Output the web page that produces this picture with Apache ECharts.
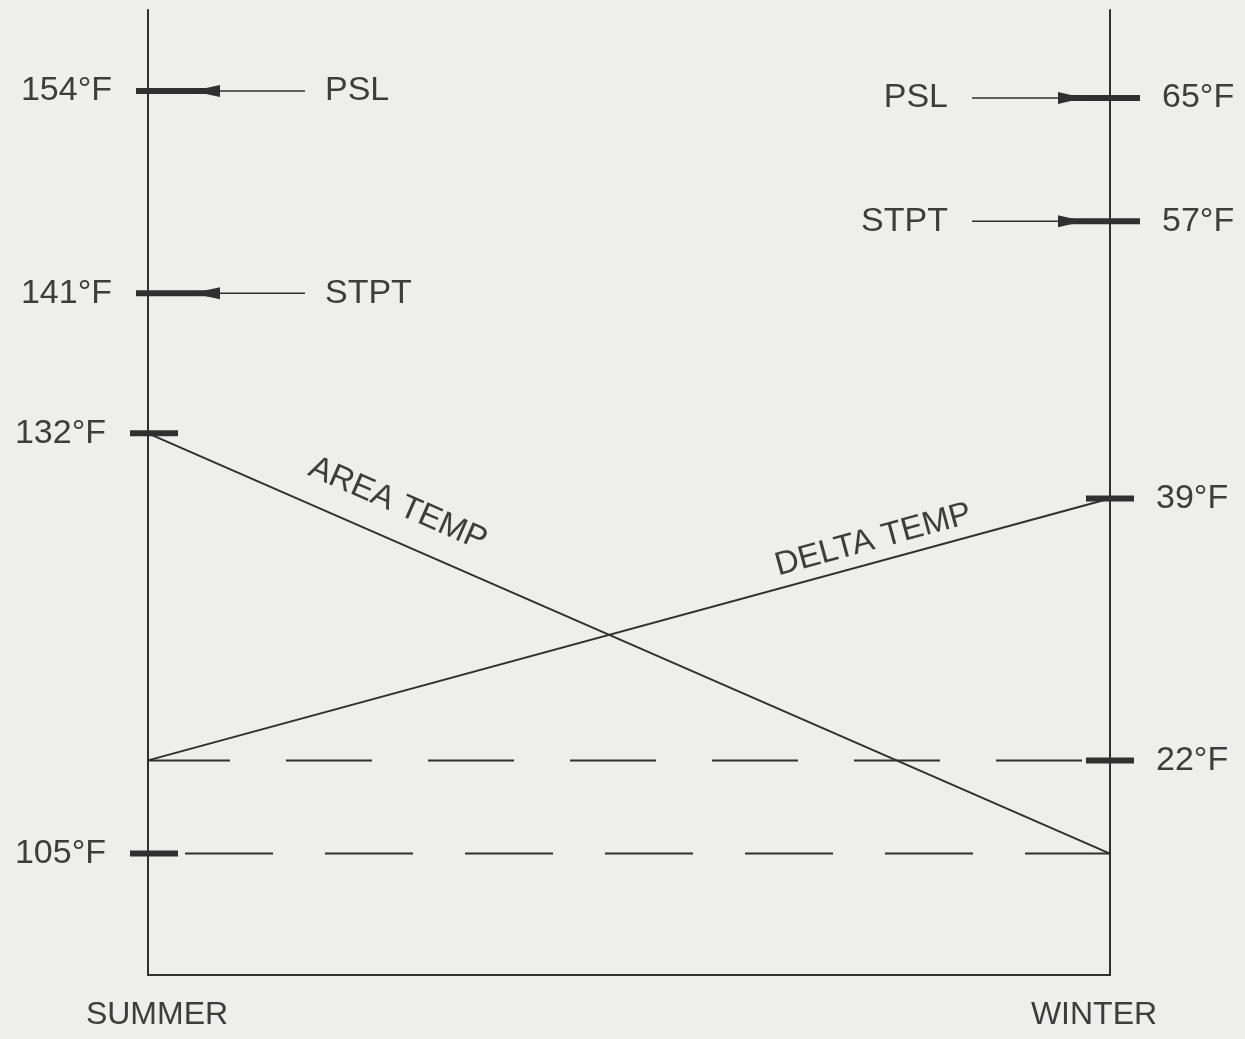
<!DOCTYPE html>
<html>
<head>
<meta charset="utf-8">
<title>Area temp / delta temp</title>
<script src="https://cdn.jsdelivr.net/npm/echarts@6/dist/echarts.min.js"></script>
<style>
  html, body { margin: 0; padding: 0; background: #eeeeec; }
  #chart { width: 1245px; height: 1039px; }
</style>
</head>
<body>
<div id="chart"></div>
<script>
// summer reads on the left scale, winter on the right one
const seasons = ['SUMMER', 'WINTER'];
const areaTemp = [132, 105];   // left scale, °F
const deltaTemp = [22, 39];    // right scale, °F
const summerTicks = [154, 141, 132, 105];
const summerSetpoints = ['PSL', 'STPT', '', ''];
const winterTicks = [65, 57, 39, 22];
const winterSetpoints = ['PSL', 'STPT', '', ''];
const lineNames = ['AREA TEMP', 'DELTA TEMP'];

const ink = '#303030';
const textInk = '#3d3d3d';
const family = '"Liberation Sans", Arial, sans-serif';

function markerRender(left, names) {
  return function (params, api) {
    const p = api.coord([api.value(0), api.value(1)]);
    const x = p[0], y = p[1];
    const name = names[params.dataIndex];
    const kids = [];
    let a, b;
    if (name) { a = left ? -12 : -52; b = left ? 72 : 30; }
    else { a = left ? -18 : -24; b = left ? 30 : 24; }
    kids.push({ type: 'line', shape: { x1: x + a, y1: y, x2: x + b, y2: y },
      style: { stroke: ink, lineWidth: 6 } });
    if (name) {
      if (left) {
        kids.push({ type: 'polygon', shape: { points: [[x + b, y - 6], [x + b, y + 6], [x + b - 28, y]] },
          style: { fill: ink } });
        kids.push({ type: 'line', shape: { x1: x + b, y1: y, x2: x + b + 85, y2: y },
          style: { stroke: ink, lineWidth: 1.6 } });
        kids.push({ type: 'text', x: x + b + 105, y: y,
          style: { text: name, font: '34px ' + family, fill: textInk, align: 'left', verticalAlign: 'middle' } });
      } else {
        kids.push({ type: 'polygon', shape: { points: [[x + a, y - 6], [x + a, y + 6], [x + a + 26, y]] },
          style: { fill: ink } });
        kids.push({ type: 'line', shape: { x1: x + a - 86, y1: y, x2: x + a, y2: y },
          style: { stroke: ink, lineWidth: 1.6 } });
        kids.push({ type: 'text', x: x + a - 110, y: y,
          style: { text: name, font: '34px ' + family, fill: textInk, align: 'right', verticalAlign: 'middle' } });
      }
    }
    kids.push({ type: 'text', x: left ? x + a - 24 : x + b + 22, y: y,
      style: { text: api.value(1) + '°F', font: '34px ' + family, fill: textInk,
        align: left ? 'right' : 'left', verticalAlign: 'middle' } });
    return { type: 'group', children: kids };
  };
}

// text laid along a line, a bit above it
function lineTitle(values, name, along, offset) {
  return function (params, api) {
    const p0 = api.coord([0, values[0]]);
    const p1 = api.coord([1, values[1]]);
    const dx = p1[0] - p0[0], dy = p1[1] - p0[1];
    const len = Math.hypot(dx, dy);
    const nx = dy / len, ny = -dx / len;
    return {
      type: 'text',
      x: p0[0] + dx * along + nx * offset,
      y: p0[1] + dy * along + ny * offset,
      rotation: -Math.atan2(dy, dx),
      style: { text: name, font: '33px ' + family, fill: textInk, align: 'center', verticalAlign: 'middle' }
    };
  };
}

const axisStyle = { color: ink, width: 2 };
const chart = echarts.init(document.getElementById('chart'));
chart.setOption({
  backgroundColor: '#eeeeec',
  animation: false,
  grid: { left: 148, right: 135, top: 10, bottom: 64 },
  xAxis: {
    type: 'category',
    data: seasons,
    boundaryGap: false,
    axisLine: { onZero: false, lineStyle: axisStyle },
    axisTick: { show: false },
    axisLabel: {
      color: textInk, fontSize: 32, fontFamily: family, margin: 24,
      formatter: (v, i) => '{s' + i + '|' + v + '}',
      rich: {
        s0: { color: textInk, fontSize: 32, fontFamily: family, padding: [0, 0, 0, 18] },
        s1: { color: textInk, fontSize: 32, fontFamily: family, padding: [0, 32, 0, 0] }
      }
    },
    splitLine: { show: false }
  },
  yAxis: [
    { type: 'value', position: 'left', min: 97.2, max: 159.2,
      axisLine: { show: true, lineStyle: axisStyle },
      axisTick: { show: false }, axisLabel: { show: false }, splitLine: { show: false } },
    { type: 'value', position: 'right', min: 8.07, max: 70.71,
      axisLine: { show: true, lineStyle: axisStyle },
      axisTick: { show: false }, axisLabel: { show: false }, splitLine: { show: false } }
  ],
  series: [
    { type: 'line', name: lineNames[0], yAxisIndex: 0, data: areaTemp, symbol: 'none', silent: true,
      lineStyle: { color: ink, width: 2 } },
    { type: 'line', name: lineNames[1], yAxisIndex: 1, data: deltaTemp, symbol: 'none', silent: true,
      lineStyle: { color: ink, width: 2 } },
    { type: 'line', yAxisIndex: 0, data: [areaTemp[1], areaTemp[1]], symbol: 'none', silent: true,
      lineStyle: { color: ink, width: 2, type: [88, 52], dashOffset: 103 } },
    { type: 'line', yAxisIndex: 1, data: [deltaTemp[0], deltaTemp[0]], symbol: 'none', silent: true,
      lineStyle: { color: ink, width: 2, type: [86, 56], dashOffset: 4 } },
    { type: 'custom', yAxisIndex: 0, clip: false, silent: true,
      data: summerTicks.map(v => [0, v]), encode: { x: 0, y: 1 },
      renderItem: markerRender(true, summerSetpoints) },
    { type: 'custom', yAxisIndex: 1, clip: false, silent: true,
      data: winterTicks.map(v => [1, v]), encode: { x: 0, y: 1 },
      renderItem: markerRender(false, winterSetpoints) },
    { type: 'custom', yAxisIndex: 0, clip: false, silent: true,
      data: [[0, areaTemp[0]]], encode: { x: 0, y: 1 },
      renderItem: lineTitle(areaTemp, lineNames[0], 0.245, 35) },
    { type: 'custom', yAxisIndex: 1, clip: false, silent: true,
      data: [[1, deltaTemp[1]]], encode: { x: 0, y: 1 },
      renderItem: lineTitle(deltaTemp, lineNames[1], 0.76, 22) }
  ]
});
</script>
</body>
</html>
